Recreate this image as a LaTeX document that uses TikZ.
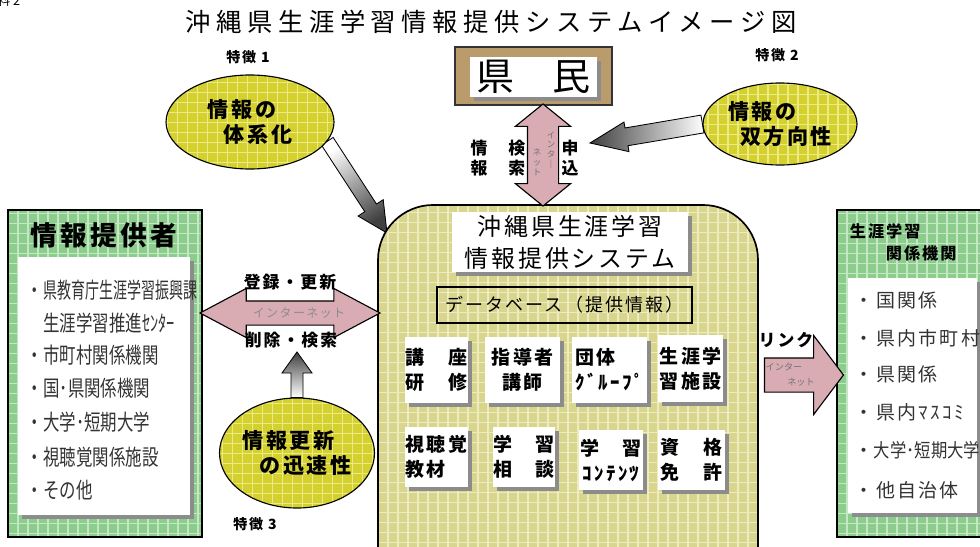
\documentclass[tikz,border=0pt]{standalone}
\usepackage{fontspec}
\usepackage{graphicx}
\setmainfont{Noto Sans CJK JP}
\newfontfamily\jpwide[LetterSpace=12]{Noto Sans CJK JP}
\newfontfamily\jptitle[LetterSpace=22]{Noto Sans CJK JP}
\newfontfamily\jpnarrow[FakeStretch=0.75]{Noto Sans CJK JP}
\usetikzlibrary{shapes.geometric,shapes.arrows,shadows,fit,backgrounds,calc}

\definecolor{featyellow}{RGB}{212,208,48}
\definecolor{featgrid}{RGB}{236,234,130}
\definecolor{provgreen}{RGB}{140,204,140}
\definecolor{provgrid}{RGB}{196,232,196}
\definecolor{sysolive}{RGB}{216,214,142}
\definecolor{sysgrid}{RGB}{238,236,190}
\definecolor{netpink}{RGB}{216,172,178}
\definecolor{kenmintan}{RGB}{186,156,108}
\newcommand\pxfont[2]{\fontsize{#1}{#2}\selectfont}
% block arrow: start, tip, shaft half width, head half width, head length, shading
\newcommand\featarrow[6]{%
  \coordinate (hb) at ($(#2)!#5!(#1)$);
  \draw[semithick, #6] ($(#1)!#3!90:(#2)$) -- ($(hb)!#3!90:(#2)$) -- ($(hb)!#4!90:(#2)$) -- (#2)
    -- ($(hb)!#4!-90:(#2)$) -- ($(hb)!#3!-90:(#2)$) -- ($(#1)!#3!-90:(#2)$) -- cycle;}

\tikzset{
  gridded/.style = {path picture={\draw[#1] (path picture bounding box.south west) grid[step=2.5mm] (path picture bounding box.north east);}},
  shadowed/.style = {drop shadow={shadow xshift=1mm, shadow yshift=-1mm, fill=black!45, opacity=1}},
  feature/.style = {ellipse, draw=black, thick, fill=featyellow, gridded=featgrid, inner sep=0pt, align=left, font=\jpwide\bfseries\pxfont{15}{18}},
  featlabel/.style = {font=\jpwide\bfseries\pxfont{10}{12}},
  greenbox/.style = {draw=black, very thick, fill=provgreen, gridded=provgrid, inner sep=0pt},
  whitepanel/.style = {fill=white, shadowed, inner sep=0pt},
  provitem/.style = {anchor=west, text=black!80, font=\jpnarrow\pxfont{15.6}{18}},
  relitem/.style = {anchor=west, text=black!80, font=\jpwide\pxfont{13.5}{16}},
  sysbox/.style = {draw=black, very thick, rounded corners=13.75mm, fill=sysolive, gridded=sysgrid, inner sep=0pt},
  itembox/.style = {fill=white, shadowed, inner sep=0pt, align=center, font=\jpwide\bfseries\pxfont{13.5}{17.8}},
  netarrow/.style = {draw=black, thick, fill=netpink, inner xsep=0pt},
  netlabel/.style = {font=\jpwide\bfseries\pxfont{12}{14.2}},
  nettiny/.style = {text=black!55, align=center, inner sep=0pt, font=\pxfont{6}{7}}
}

\begin{document}
\begin{tikzpicture}[x=0.25mm, y=-0.25mm]
\useasboundingbox (0,0) rectangle (980,546);
\clip (0,0) rectangle (980,546);
% TITLE
\node[anchor=east, font=\pxfont{9}{10}] (docno) at (25,1) {資料 2};
\node[font=\jptitle\pxfont{18}{22}] (title) at (491,22) {沖縄県生涯学習情報提供システムイメージ図};
% CITIZENS
\node[draw=black!80, very thick, fill=kenmintan, inner sep=0pt, fit={(455,47) (612,105)}] (kenmin) {};
\node[whitepanel, font=\pxfont{27}{30}, minimum width=31.75mm, minimum height=10mm] (kenminname) at (533.5,77) {県　民};
% FEATURES
\node[feature, minimum width=42mm, minimum height=23.5mm] (feat1) at (250,122) {情報の\\\hspace*{4mm}体系化};
\node[featlabel] (feat1lbl) at (248,57) {特徴 1};
\node[feature, minimum width=38.5mm, minimum height=20.5mm] (feat2) at (780,124) {情報の\\\hspace*{3mm}双方向性};
\node[featlabel] (feat2lbl) at (777,55) {特徴 2};
\node[feature, minimum width=38.75mm, minimum height=27.5mm] (feat3) at (297,453) {情報更新\\\hspace*{4.25mm}の迅速性};
\node[featlabel] (feat3lbl) at (255,524) {特徴 3};
% PROVIDERS
\node[greenbox, fit={(8,210) (202,537)}] (provider) {};
\node[font=\jpwide\bfseries\pxfont{19}{22}] (providerttl) at (104,235) {情報提供者};
\node[whitepanel, fit={(18,257) (190,515)}] (providerlist) {};
\node[provitem] (prov1) at (22,290) {・\scalebox{0.85}[1]{県教育庁生涯学習振興課}};
\node[provitem] (prov2) at (22,323) {　生涯学習推進ｾﾝﾀｰ};
\node[provitem] (prov3) at (22,355) {・市町村関係機関};
\node[provitem] (prov4) at (22,388) {・国･県関係機関};
\node[provitem] (prov5) at (22,422) {・大学･短期大学};
\node[provitem] (prov6) at (22,457) {・視聴覚関係施設};
\node[provitem] (prov7) at (22,490) {・その他};
% RELATED BODIES
\node[greenbox, fit={(837,210) (995,537)}] (related) {};
\node[anchor=west, font=\jpwide\bfseries\pxfont{11.5}{14}] (relatedttl1) at (845,231) {生涯学習};
\node[anchor=west, font=\jpwide\bfseries\pxfont{11.5}{14}] (relatedttl2) at (881,253) {関係機関};
\node[whitepanel, fit={(848,278) (977,513)}] (relatedlist) {};
\node[relitem] (rel1) at (850,300) {・国関係};
\node[relitem] (rel2) at (850,338) {・県内市町村};
\node[relitem] (rel3) at (850,374) {・県関係};
\node[relitem] (rel4) at (850,412) {・県内ﾏｽｺﾐ};
\node[relitem, font=\pxfont{13.5}{16}] (rel5) at (850,450) {・\scalebox{0.86}[1]{大学･短期大学}};
\node[relitem] (rel6) at (850,490) {・他自治体};
% SYSTEM
\node[sysbox, fit={(378,205) (758,620)}] (system) {};
\node[whitepanel, align=center, font=\jpwide\pxfont{17}{22.8}, minimum width=59mm, minimum height=15mm] (systitle) at (570,242) {沖縄県生涯学習\\情報提供システム};
\node[draw=black, thick, inner sep=0pt, font=\jpwide\pxfont{12.8}{15}, minimum width=63.75mm, minimum height=9mm] (db) at (564.5,305) {データベース（提供情報）};
\node[itembox, minimum width=15.75mm, minimum height=16.5mm] (course) at (436.5,370) {講　座\\研　修};
\node[itembox, minimum width=18.75mm, minimum height=16.5mm] (leader) at (522.5,370) {指導者\\講師};
\node[itembox, align=left, minimum width=18.75mm, minimum height=16.5mm] (group) at (609.5,370) {団体\\ｸﾞﾙｰﾌﾟ};
\node[itembox, minimum width=16.25mm, minimum height=16.75mm] (facility) at (690.5,368.5) {生涯学\\習施設};
\node[itembox, align=left, minimum width=15.75mm, minimum height=15mm] (media) at (436.5,457) {視聴覚\\教材};
\node[itembox, minimum width=15.5mm, minimum height=15mm] (consult) at (524,457) {学　習\\相　談};
\node[itembox, minimum width=16mm, minimum height=15mm] (content) at (611,460) {学　習\\ｺﾝﾃﾝﾂ};
\node[itembox, minimum width=16.75mm, minimum height=15mm] (license) at (691.5,460) {資　格\\免　許};
% NETWORK ARROWS
\path (provider.east |- 0,313) -- node[netarrow, double arrow, sloped, minimum height=45mm, minimum width=12mm, inner ysep=2.875mm, double arrow head extend=3.125mm, double arrow tip angle=56] (regarrow) {} (system.west |- 0,313);
\node[netlabel] (regtext) at (290,282) {登録・更新};
\node[netlabel] (deltext) at (291,340) {削除・検索};
\node[text=black!45, font=\jpwide\pxfont{8.5}{10}] (regnet) at (299,313) {インターネット};
\path (kenmin.south -| 543,0) -- node[netarrow, double arrow, sloped, minimum height=25.5mm, minimum width=13.5mm, inner ysep=3.75mm, double arrow head extend=3mm, double arrow tip angle=102] (searcharrow) {} (system.north -| 543,0);
\node[netlabel, align=center] (searchtext) at (498,158) {情　検\\報　索};
\node[netlabel, align=center] (applytext) at (570,158) {申\\込};
\node[nettiny] (searchnet1) at (551,150) {イ\\ン\\タ\\｜};
\node[nettiny] (searchnet2) at (537,162) {ネ\\ッ\\ト};
\path (system.east |- 0,375) -- node[netarrow, single arrow, sloped, minimum height=19.75mm, minimum width=19.5mm, inner ysep=4.125mm, single arrow head extend=5.625mm, single arrow tip angle=106] (linkarrow) {} (related.west |- 0,375);
\node[netlabel] (linktext) at (786,340) {リンク};
\node[nettiny, font=\pxfont{6.5}{8}] (linknet1) at (784,367) {インター};
\node[nettiny, font=\pxfont{6.5}{8}] (linknet2) at (801,382) {ネット};
% FEATURE ARROWS
\coordinate (tip1) at (387,233);
\coordinate (tip2) at (590,143);
\coordinate (tip3) at (297,352);
\begin{scope}[on background layer]
\featarrow{feat1.-14}{tip1}{1.75mm}{3.75mm}{7.5mm}{top color=white, bottom color=black!75, shading angle=34}
\featarrow{feat2.west}{tip2}{2.25mm}{3.75mm}{9.25mm}{left color=black!75, right color=white}
\featarrow{feat3.north}{tip3}{1.5mm}{3.75mm}{5.25mm}{top color=black!75, bottom color=white}
\end{scope}
\end{tikzpicture}
\end{document}
